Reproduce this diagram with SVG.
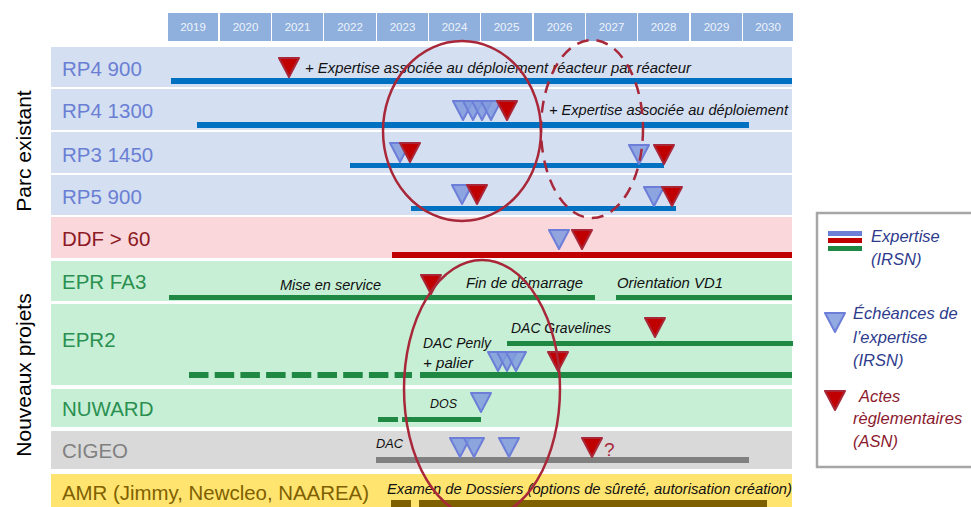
<svg xmlns="http://www.w3.org/2000/svg" xmlns:xlink="http://www.w3.org/1999/xlink" width="971" height="507" viewBox="0 0 971 507">
<style>
.yr{fill:#8FB0DD}
.yt{font-family:"Liberation Sans",Arial,sans-serif;font-size:11.5px;fill:#EEF3FB;text-anchor:middle}
.lbl{font-family:"Liberation Sans",Arial,sans-serif;font-size:20.5px}
.ann{font-family:"Liberation Sans",Arial,sans-serif;font-style:italic;font-size:14.5px;fill:#111}
.side{font-family:"Liberation Sans",Arial,sans-serif;font-size:21px;fill:#000;text-anchor:middle}
.leg{font-family:"Liberation Sans",Arial,sans-serif;font-style:italic;font-size:16.5px}
.tb{fill:#7F9BDD;fill-opacity:.85;stroke:#6C7ED8;stroke-width:2;stroke-linejoin:round}
.tr{fill:#C00000;stroke:#A8283A;stroke-width:2;stroke-linejoin:round}
.bb{fill:#0070C0}.br{fill:#C00000}.bg{fill:#1F8843}.bgr{fill:#808080}.bo{fill:#7F6000}
.ring{fill:none;stroke:#A8283A;stroke-width:2.5}
</style>
<defs>
<path id="tri" d="M-10,0 L10,0 L0,19 Z"/>
</defs>
<rect width="971" height="507" fill="#fff"/>

<g id="years">
<rect class="yr" x="168" y="13" width="50" height="28"/><text class="yt" x="193" y="31">2019</text>
<rect class="yr" x="220" y="13" width="51" height="28"/><text class="yt" x="245.5" y="31">2020</text>
<rect class="yr" x="272" y="13" width="51" height="28"/><text class="yt" x="297.5" y="31">2021</text>
<rect class="yr" x="324" y="13" width="52" height="28"/><text class="yt" x="350" y="31">2022</text>
<rect class="yr" x="377" y="13" width="51" height="28"/><text class="yt" x="402.5" y="31">2023</text>
<rect class="yr" x="429" y="13" width="51" height="28"/><text class="yt" x="454.5" y="31">2024</text>
<rect class="yr" x="481" y="13" width="51" height="28"/><text class="yt" x="506.5" y="31">2025</text>
<rect class="yr" x="534" y="13" width="51" height="28"/><text class="yt" x="559.5" y="31">2026</text>
<rect class="yr" x="586" y="13" width="51" height="28"/><text class="yt" x="611.5" y="31">2027</text>
<rect class="yr" x="638" y="13" width="51" height="28"/><text class="yt" x="663.5" y="31">2028</text>
<rect class="yr" x="691" y="13" width="51" height="28"/><text class="yt" x="716.5" y="31">2029</text>
<rect class="yr" x="743" y="13" width="50" height="28"/><text class="yt" x="768" y="31">2030</text>
</g>

<g id="side-labels">
<text class="side" transform="translate(31,151) rotate(-90)">Parc existant</text>
<text class="side" transform="translate(31,375) rotate(-90)">Nouveaux projets</text>
</g>

<g id="rp4-900">
<rect x="51" y="47" width="741" height="40" fill="#D4DFF1"/>
<text class="lbl" x="62" y="76" fill="#6A7FD4">RP4 900</text>
<rect class="bb" x="171" y="78" width="621" height="6"/>
<use xlink:href="#tri" class="tr" x="289" y="58"/>
<text class="ann" x="305" y="73" textLength="386" lengthAdjust="spacingAndGlyphs">+ Expertise associée au déploiement réacteur par réacteur</text>
</g>

<g id="rp4-1300">
<rect x="51" y="89" width="741" height="41" fill="#D4DFF1"/>
<text class="lbl" x="62" y="118" fill="#6A7FD4">RP4 1300</text>
<rect class="bb" x="197" y="122" width="552" height="6"/>
<use xlink:href="#tri" class="tb" x="463" y="101"/>
<use xlink:href="#tri" class="tb" x="473" y="101"/>
<use xlink:href="#tri" class="tb" x="482" y="101"/>
<use xlink:href="#tri" class="tb" x="491" y="101"/>
<use xlink:href="#tri" class="tr" x="507" y="101"/>
<text class="ann" x="549" y="115" textLength="239" lengthAdjust="spacingAndGlyphs">+ Expertise associée au déploiement</text>
</g>

<g id="rp3-1450">
<rect x="51" y="132" width="741" height="41" fill="#D4DFF1"/>
<text class="lbl" x="62" y="162" fill="#6A7FD4">RP3 1450</text>
<rect class="bb" x="350" y="163" width="314" height="5"/>
<use xlink:href="#tri" class="tb" x="400" y="143"/>
<use xlink:href="#tri" class="tr" x="410" y="143"/>
<use xlink:href="#tri" class="tb" x="639" y="145"/>
<use xlink:href="#tri" class="tr" x="664" y="145"/>
</g>

<g id="rp5-900">
<rect x="51" y="175" width="741" height="40" fill="#D4DFF1"/>
<text class="lbl" x="62" y="204" fill="#6A7FD4">RP5 900</text>
<rect class="bb" x="411" y="206" width="265" height="5"/>
<use xlink:href="#tri" class="tb" x="462" y="185"/>
<use xlink:href="#tri" class="tr" x="477" y="185"/>
<use xlink:href="#tri" class="tb" x="654" y="187"/>
<use xlink:href="#tri" class="tr" x="672" y="187"/>
</g>

<g id="ddf-60">
<rect x="51" y="217" width="741" height="41" fill="#FAD7DB"/>
<text class="lbl" x="62" y="246" fill="#8B1A24">DDF &gt; 60</text>
<rect class="br" x="392" y="252" width="400" height="6"/>
<use xlink:href="#tri" class="tb" x="559" y="230"/>
<use xlink:href="#tri" class="tr" x="582" y="230"/>
</g>

<g id="epr-fa3">
<rect x="51" y="261" width="741" height="40" fill="#C7EFD6"/>
<text class="lbl" x="62" y="289" fill="#2A9050">EPR FA3</text>
<rect class="bg" x="169" y="295" width="426" height="5"/>
<rect class="bg" x="616" y="295" width="176" height="5"/>
<use xlink:href="#tri" class="tr" x="431" y="275"/>
<text class="ann" x="280" y="290" textLength="101" lengthAdjust="spacingAndGlyphs">Mise en service</text>
<text class="ann" x="466" y="288" textLength="117" lengthAdjust="spacingAndGlyphs">Fin de démarrage</text>
<text class="ann" x="617" y="288" textLength="106" lengthAdjust="spacingAndGlyphs">Orientation VD1</text>
</g>

<g id="epr2">
<rect x="51" y="304" width="741" height="81" fill="#C7EFD6"/>
<text class="lbl" x="62" y="347" fill="#2A9050">EPR2</text>
<rect class="bg" x="507" y="341" width="286" height="5"/>
<line x1="189" y1="375" x2="412" y2="375" stroke="#1F8843" stroke-width="6" stroke-dasharray="19.5 6.2"/>
<rect class="bg" x="420" y="372" width="372" height="6"/>
<text class="ann" x="511" y="333" textLength="100" lengthAdjust="spacingAndGlyphs">DAC Gravelines</text>
<text class="ann" x="423" y="348" textLength="68" lengthAdjust="spacingAndGlyphs">DAC Penly</text>
<text class="ann" x="423" y="368" textLength="50" lengthAdjust="spacingAndGlyphs">+ palier</text>
<use xlink:href="#tri" class="tr" x="655" y="318"/>
<use xlink:href="#tri" class="tb" x="498" y="352"/>
<use xlink:href="#tri" class="tb" x="507" y="352"/>
<use xlink:href="#tri" class="tb" x="516" y="352"/>
<use xlink:href="#tri" class="tr" x="558" y="352"/>
</g>

<g id="nuward">
<rect x="51" y="389" width="741" height="38" fill="#C7EFD6"/>
<text class="lbl" x="62" y="416" fill="#2A9050">NUWARD</text>
<rect class="bg" x="378" y="417" width="20" height="5"/>
<rect class="bg" x="402" y="417" width="79" height="5"/>
<text class="ann" x="430" y="408" style="font-size:12.5px" textLength="27" lengthAdjust="spacingAndGlyphs">DOS</text>
<use xlink:href="#tri" class="tb" x="481" y="393"/>
</g>

<g id="cigeo">
<rect x="51" y="431" width="741" height="38" fill="#D9D9D9"/>
<text class="lbl" x="62" y="458" fill="#808080">CIGEO</text>
<rect class="bgr" x="376" y="457" width="373" height="6"/>
<text class="ann" x="376" y="448" style="font-size:12.5px" textLength="27" lengthAdjust="spacingAndGlyphs">DAC</text>
<use xlink:href="#tri" class="tb" x="460" y="438"/>
<use xlink:href="#tri" class="tb" x="474" y="438"/>
<use xlink:href="#tri" class="tb" x="509" y="438"/>
<use xlink:href="#tri" class="tr" x="592" y="438"/>
<text x="604" y="456" style="font-family:'Liberation Sans',Arial,sans-serif;font-size:19px" fill="#A8283A">?</text>
</g>

<g id="amr">
<rect x="51" y="474" width="741" height="33" fill="#FFE56F"/>
<text class="lbl" x="62" y="500" fill="#7F6000" textLength="307" lengthAdjust="spacingAndGlyphs">AMR (Jimmy, Newcleo, NAAREA)</text>
<text class="ann" x="387" y="494" textLength="405" lengthAdjust="spacingAndGlyphs">Examen de Dossiers (options de sûreté, autorisation création)</text>
<rect class="bo" x="391" y="500" width="20" height="7"/>
<rect class="bo" x="419" y="500" width="348" height="7"/>
</g>

<g id="legend">
<rect x="817" y="213" width="160" height="254" fill="#fff" stroke="#A6A6A6" stroke-width="2.5"/>
<rect x="828" y="231" width="34" height="5" fill="#6B7FD7"/>
<rect x="828" y="238" width="34" height="5" fill="#C00000"/>
<rect x="828" y="246" width="34" height="5" fill="#1F8843"/>
<text class="leg" x="871" y="242" fill="#2E3B8C">Expertise</text>
<text class="leg" x="871" y="265" fill="#2E3B8C">(IRSN)</text>
<use xlink:href="#tri" class="tb" x="835" y="313"/>
<text class="leg" x="853" y="319" fill="#2E3B8C">Échéances de</text>
<text class="leg" x="853" y="343" fill="#2E3B8C">l’expertise</text>
<text class="leg" x="853" y="366" fill="#2E3B8C">(IRSN)</text>
<use xlink:href="#tri" class="tr" x="835" y="391"/>
<text class="leg" x="859" y="402" fill="#8B1A2E">Actes</text>
<text class="leg" x="853" y="424" fill="#8B1A2E">règlementaires</text>
<text class="leg" x="853" y="447" fill="#8B1A2E">(ASN)</text>
</g>

<g id="connectors">
<ellipse class="ring" cx="462" cy="131" rx="79" ry="90"/>
<ellipse class="ring" cx="592" cy="129" rx="51" ry="89" stroke-width="3" stroke-dasharray="12 8"/>
<ellipse class="ring" cx="482" cy="389" rx="78" ry="129"/>
</g>
</svg>
